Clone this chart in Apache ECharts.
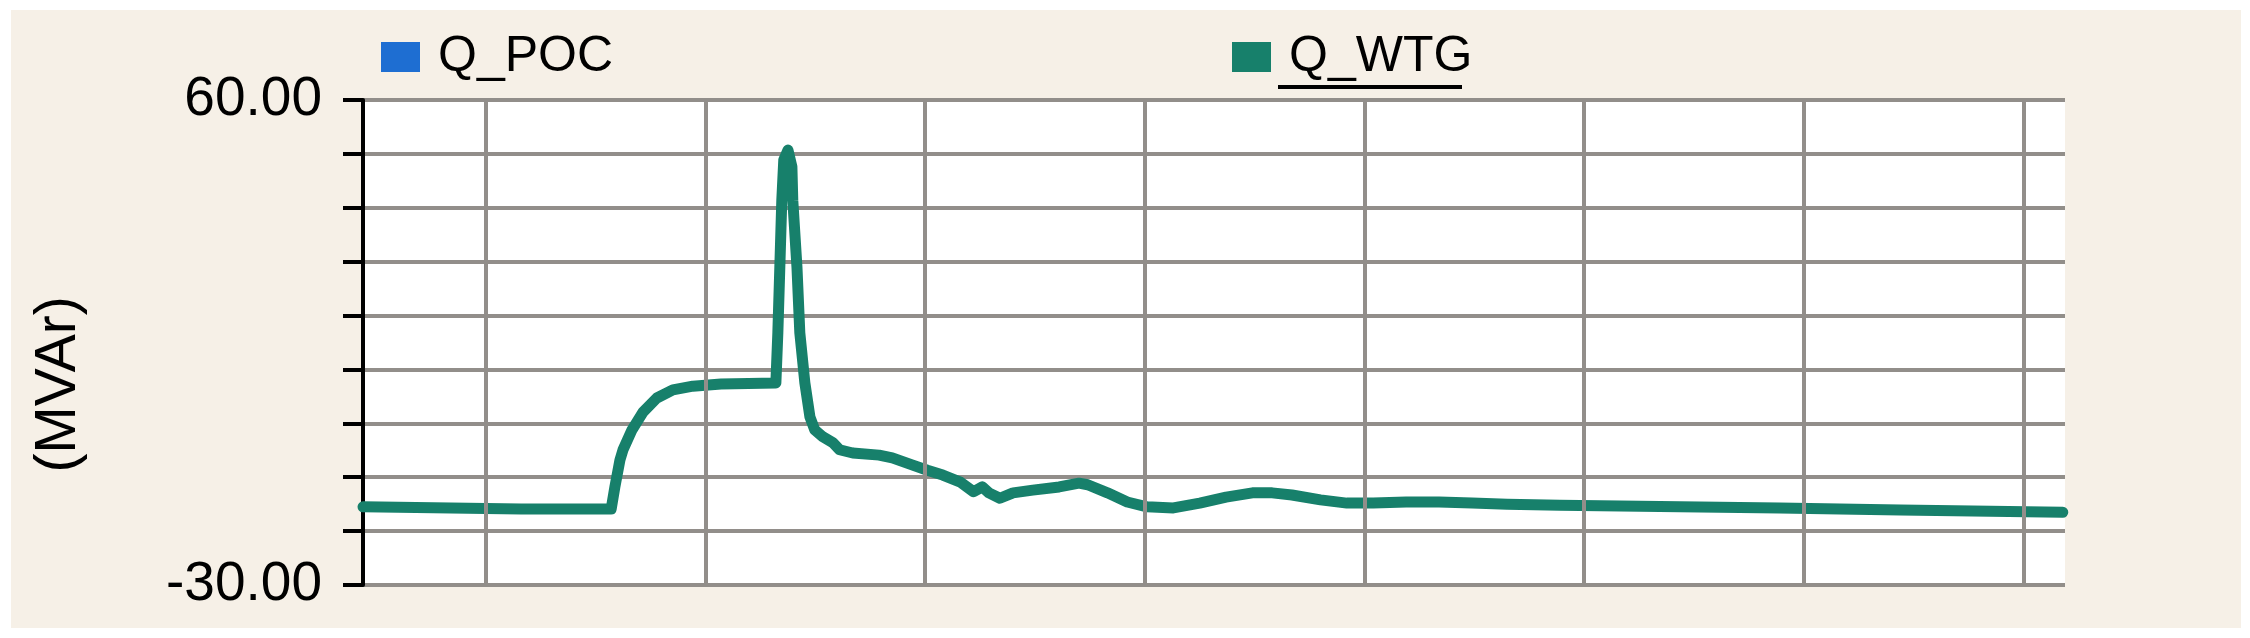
<!DOCTYPE html>
<html>
<head>
<meta charset="utf-8">
<script src="https://cdn.jsdelivr.net/npm/echarts@6/dist/echarts.min.js"></script>
<style>
  html, body { margin: 0; padding: 0; background: #ffffff; }
  #wrap { position: relative; width: 2250px; height: 638px; background: #ffffff; }
  #chart { position: absolute; left: 11px; top: 10px; width: 2230px; height: 618px; }
</style>
</head>
<body>
<div id="wrap"><div id="chart"></div></div>
<script>
// ---- data (time axis in seconds-like units, values in MVAr) ----
const seriesNames = ['Q_POC', 'Q_WTG'];
const tValues = [0.44, 0.84, 1.16, 1.57, 1.587, 1.610, 1.624, 1.665, 1.715, 1.778, 1.851, 1.942, 2.07,
  2.32, 2.329, 2.338, 2.347, 2.356, 2.375, 2.393, 2.397, 2.416, 2.429, 2.452, 2.475, 2.497, 2.534,
  2.58, 2.61, 2.67, 2.79, 2.85, 2.94, 3.01, 3.08, 3.16, 3.22, 3.26, 3.29, 3.34, 3.40, 3.49, 3.61,
  3.70, 3.74, 3.83, 3.92, 4.01, 4.13, 4.25, 4.37, 4.49, 4.58, 4.67, 4.80, 4.92, 5.04, 5.19, 5.34,
  5.49, 5.65, 5.89, 6.89, 7.44, 8.18];
const qWtg = [-15.5, -15.7, -15.9, -15.9, -11.8, -6.8, -4.9, -1.2, 2.1, 4.7, 6.2, 6.9, 7.3,
  7.5, 16.8, 29.0, 41.4, 48.9, 50.7, 47.6, 41.4, 29.0, 16.8, 7.5, 1.2, -1.2, -2.5,
  -3.6, -4.9, -5.5, -5.9, -6.4, -7.7, -8.7, -9.6, -10.9, -12.7, -11.8, -12.9, -13.9, -12.9, -12.4, -11.8,
  -11.1, -11.4, -12.9, -14.6, -15.5, -15.7, -14.8, -13.7, -12.9, -12.9, -13.3, -14.2, -14.8, -14.8, -14.6, -14.6,
  -14.8, -15.0, -15.2, -15.7, -16.1, -16.5];
const qPoc = [];
const xGridTicks = [1, 2, 3, 4, 5, 6, 7, 8];
const xRange = [0.44, 8.19];
const yRange = [-30, 60];
const yStep = 10;
const yTickLabels = ['60.00', '-30.00'];
const yAxisName = '(MVAr)';

// ---- chart ----
const FONT = '"Liberation Sans", Arial, sans-serif';
const GRID_GRAY = '#928e8a';
const chart = echarts.init(document.getElementById('chart'), null, { renderer: 'canvas' });

const legendBase = {
  icon: 'rect', itemWidth: 39, itemHeight: 30, top: 17, selectedMode: false,
  textStyle: { fontSize: 50, color: '#000', fontFamily: FONT, padding: [0, 0, 0, 13] }
};

chart.setOption({
  animation: false,
  backgroundColor: '#f6f0e7',
  legend: [
    Object.assign({}, legendBase, { data: [seriesNames[0]], left: 365 }),
    Object.assign({}, legendBase, { data: [seriesNames[1]], left: 1216 })
  ],
  graphic: [
    { type: 'rect', left: 1267, top: 75, shape: { width: 184, height: 4 }, style: { fill: '#000' }, silent: true }
  ],
  grid: { left: 352, right: 176, top: 90, bottom: 43, show: true, backgroundColor: '#ffffff', borderWidth: 0 },
  xAxis: {
    type: 'value', min: xRange[0], max: xRange[1],
    axisLine: { show: false }, axisTick: { show: false }, axisLabel: { show: false }, splitLine: { show: false }
  },
  yAxis: {
    type: 'value', min: yRange[0], max: yRange[1], interval: yStep,
    name: yAxisName, nameLocation: 'middle', nameRotate: 90, nameGap: 275,
    nameTextStyle: { fontSize: 57, color: '#000', fontFamily: FONT, padding: [0, 84, 0, 0] },
    axisLine: { show: true, lineStyle: { color: '#000', width: 4 } },
    axisTick: { show: true, length: 20, lineStyle: { color: '#000', width: 4 } },
    axisLabel: {
      show: true, margin: 41, fontSize: 55, color: '#000', fontFamily: FONT,
      formatter: function (v) { const s = v.toFixed(2); return yTickLabels.includes(s) ? s : ''; }
    },
    splitLine: { show: true, lineStyle: { color: GRID_GRAY, width: 4 } }
  },
  series: [
    {
      name: 'xgrid', type: 'line', data: [], z: 1, silent: true,
      markLine: {
        silent: true, symbol: ['none', 'none'], animation: false,
        label: { show: false },
        lineStyle: { color: GRID_GRAY, width: 4, type: 'solid' },
        emphasis: { disabled: true },
        data: xGridTicks.map(function (v) { return { xAxis: v }; })
      }
    },
    {
      name: seriesNames[0], type: 'line', data: qPoc, showSymbol: false, z: 3,
      itemStyle: { color: '#1e6ed2' }, lineStyle: { color: '#1e6ed2', width: 11 }
    },
    {
      name: seriesNames[1], type: 'line', showSymbol: false, z: 4,
      data: tValues.map(function (t, i) { return [t, qWtg[i]]; }),
      itemStyle: { color: '#17806b' },
      lineStyle: { color: '#17806b', width: 11, cap: 'round', join: 'round' }
    }
  ]
});
</script>
</body>
</html>
